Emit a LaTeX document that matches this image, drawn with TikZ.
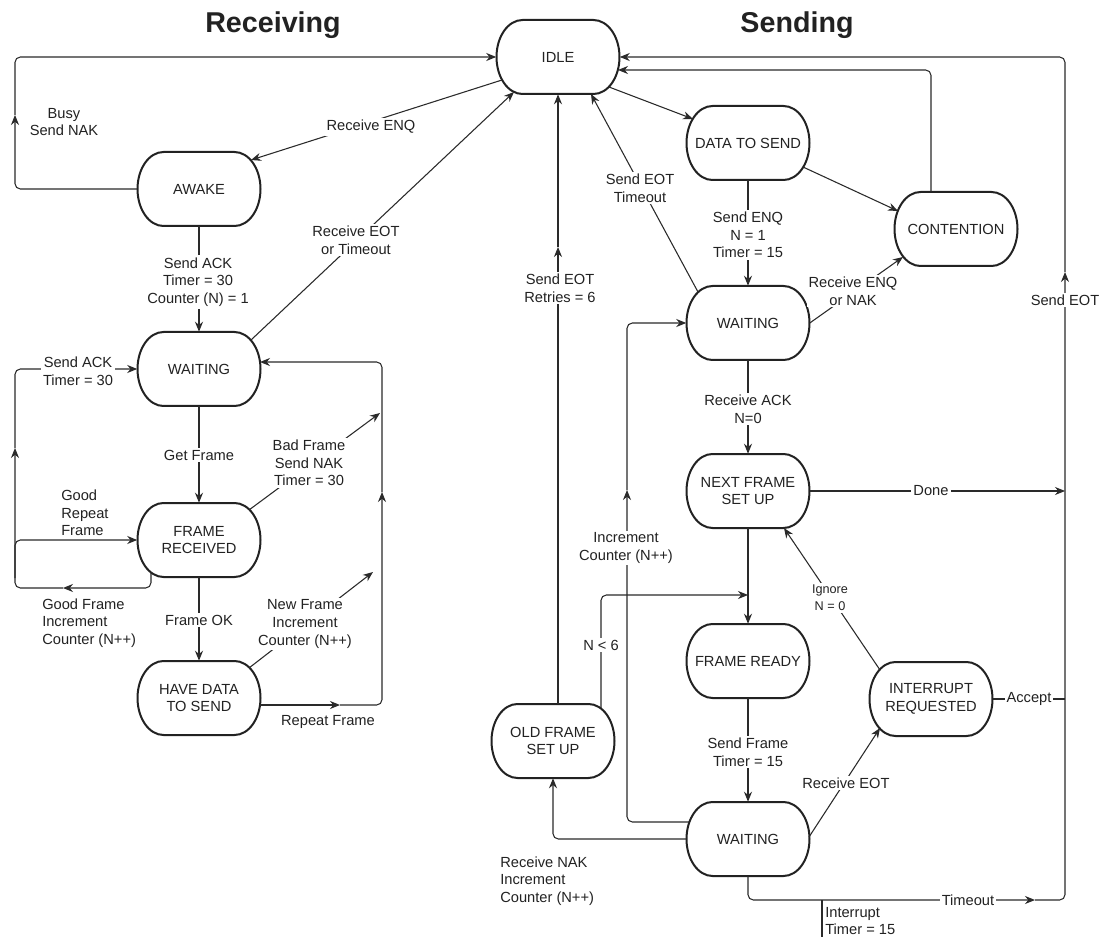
\documentclass[tikz,border=0pt]{standalone}
\usepackage{fontspec}
\setmainfont{Liberation Sans}
\usetikzlibrary{arrows.meta,calc}
\newcommand\stfont{\fontsize{11}{13.3}\selectfont}
\newcommand\smfont{\fontsize{9.5}{12.5}\selectfont}
\definecolor{ink}{HTML}{222222}
\definecolor{wire}{HTML}{2A2A2A}
\tikzset{
  state/.style={minimum width=92.25pt, minimum height=55.5pt, inner sep=2pt,
    align=center, font=\stfont, text=ink},
  outline/.style={draw=ink, line width=1.5pt},
  conn/.style={draw=wire, line width=0.8pt, rounded corners=4pt},
  arr/.style={conn, -{Stealth[length=7.5pt,width=6pt]}},
  lab/.style={fill=white, inner sep=1.5pt, align=center, font=\stfont, text=ink},
  note/.style={inner sep=0pt, align=left, font=\stfont, text=ink},
  title/.style={font=\bfseries\fontsize{21.5}{24}\selectfont, text=ink}
}
\begin{document}
\begin{tikzpicture}[x=0.75pt,y=-0.75pt]
\useasboundingbox[fill=white] (0,0) rectangle (1111,941);

% headings
\node[title] (ttlR) at (273,25) {Receiving};
\node[title] (ttlS) at (797,25) {Sending};

% states
\node[state] (idle)  at (558,57)  {IDLE};
\node[state] (awake) at (199,189) {AWAKE};
\node[state] (rwait) at (199,369) {WAITING};
\node[state] (frecv) at (199,540) {FRAME\\RECEIVED};
\node[state] (have)  at (199,698) {HAVE DATA\\TO SEND};
\node[state] (data)  at (748,143) {DATA TO SEND};
\node[state] (cont)  at (956,229) {CONTENTION};
\node[state] (swA)   at (748,323) {WAITING};
\node[state] (next)  at (748,491) {NEXT FRAME\\SET UP};
\node[state] (ready) at (748,661) {FRAME READY};
\node[state] (swB)   at (748,839) {WAITING};
\node[state] (old)   at (553,741) {OLD FRAME\\SET UP};
\node[state] (intr)  at (931,699) {INTERRUPT\\REQUESTED};

% state outlines: straight top and bottom, half-ellipse ends
\foreach \n in {idle,awake,rwait,frecv,have,data,cont,swA,next,ready,swB,old,intr}
  \draw[outline, shift={(\n.center)}]
    (-35.5,-37) -- (35.5,-37)
    .. controls (49.9,-37) and (61.5,-20.4) .. (61.5,0)
    .. controls (61.5,20.4) and (49.9,37) .. (35.5,37)
    -- (-35.5,37)
    .. controls (-49.9,37) and (-61.5,20.4) .. (-61.5,0)
    .. controls (-61.5,-20.4) and (-49.9,-37) .. (-35.5,-37)
    -- cycle;

% bend and junction points
\coordinate (bz1) at (15,115);
\coordinate (bf)  at (380,413);
\coordinate (gf1) at (63,588);
\coordinate (gf2) at (15,448);
\coordinate (gr)  at (15,578);
\coordinate (nf)  at (373,572);
\coordinate (rf1) at (340,705);
\coordinate (rf2) at (382,492);
\coordinate (dn)  at (1065,491);
\coordinate (inc1) at (627,490);
\coordinate (se1) at (558,247);
\coordinate (n6)  at (748,595);
\coordinate (to1) at (1035,900);
\coordinate (to2) at (1065,272);
\coordinate (ir)  at (822,900);
\coordinate (irEnd) at (822,937);
\coordinate (ac)  at (1065,699);

% receiving side
\draw[arr] (awake.west) -| (bz1);
\draw[arr] (bz1) |- (idle.west);
\draw[arr] ($(idle)+(-56,23)$) -- ($(awake)+(52,-29)$);
\draw[arr] (awake.south) -- (rwait.north);
\draw[arr] ($(rwait)+(52,-29)$) -- ($(idle)+(-44,35)$);
\draw[arr] (rwait.south) -- (frecv.north);
\draw[arr] ($(frecv)+(50,-30)$) -- (bf);
\draw[arr] ($(frecv)+(-48,32)$) |- (gf1);
\draw[arr] (gf1) -| (gf2);
\draw[arr] (gf2) |- (rwait.west);
\draw[arr] (gr) |- (frecv.west);
\draw[arr] (frecv.south) -- (have.north);
\draw[arr] ($(have)+(50,-30)$) -- (nf);
\draw[arr] ($(have)+(61,7)$) -- (rf1);
\draw[arr] (rf1) -| (rf2);
\draw[arr] (rf2) |- ($(rwait)+(61,-7)$);

% sending side
\draw[arr] ($(idle)+(51,30)$) -- ($(data)+(-55,-24)$);
\draw[arr] ($(data)+(55,24)$) -- ($(cont)+(-58,-18)$);
\draw[arr] ($(cont.north)+(-25,0)$) |- ($(idle)+(60,13)$);
\draw[arr] ($(swA)+(-50,-31)$) -- ($(idle)+(33,37)$);
\draw[arr] (data.south) -- (swA.north);
\draw[arr] (swA.east) -- ($(cont)+(-53,28)$);
\draw[arr] (swA.south) -- (next.north);
\draw[arr] (next.east) -- (dn);
\draw[arr] (next.south) -- (ready.north);
\draw[arr] ($(intr)+(-51,-29)$) -- ($(next)+(36,37)$);
\draw[arr] (ready.south) -- (swB.north);
\draw[arr] ($(swB)+(61,-2)$) -- ($(intr)+(-51,29)$);
\draw[arr] ($(swB)+(-59,-17)$) -| (inc1);
\draw[arr] (inc1) |- (swA.west);
\draw[arr] (swB.west) -| (old.south);
\draw[arr] ($(old.north)+(5,0)$) -- (se1);
\draw[arr] (se1) -- (idle.south);
\draw[arr] ($(old)+(48,-33)$) |- (n6);
\draw[arr] (swB.south) |- (to1);
\draw[arr] (to1) -| (to2);
\draw[arr] (to2) |- (idle.east);
\draw[conn] (ir) -- (irEnd);
\draw[conn] (intr.east) -- (ac);

% transition labels, receiving
\node[lab] (lBusy) at (64,122) {Busy\\Send NAK};
\node[lab] (lEnq) at (371,127) {Receive ENQ};
\node[lab] (lAck) at (198,282) {Send ACK\\Timer = 30\\Counter (N) = 1};
\node[lab] (lEot) at (356,240) {Receive EOT\\or Timeout};
\node[lab] (lGet) at (199,455) {Get Frame};
\node[lab] (lBad) at (309,463) {Bad Frame\\Send NAK\\Timer = 30};
\node[lab] (lSack) at (78,371) {Send ACK\\Timer = 30};
\node[note, anchor=west] (lRep) at (61,513) {Good\\Repeat\\Frame};
\node[note, anchor=west] (lGood) at (42,623) {Good Frame\\Increment\\Counter (N++)};
\node[lab] (lOk) at (199,620) {Frame OK};
\node[lab] (lNew) at (305,624) {New Frame\\Increment\\Counter (N++)};
\node[lab] (lRepeat) at (328,722) {Repeat Frame};

% transition labels, sending
\node[lab] (lSeot) at (640,188) {Send EOT\\Timeout};
\node[lab] (lRet) at (560,288) {Send EOT\\Retries = 6};
\node[lab] (lEnq2) at (748,235) {Send ENQ\\N = 1\\Timer = 15};
\node[lab] (lNak) at (853,291) {Receive ENQ\\or NAK};
\node[lab] (lSendEot) at (1065,300) {Send EOT};
\node[lab] (lRack) at (748,409) {Receive ACK\\N=0};
\node[lab] (lDone) at (931,491) {Done};
\node[lab] (lInc) at (626,548) {Increment\\Counter (N++)};
\node[lab, font=\smfont] (lIgn) at (830,598) {Ignore\\N = 0};
\node[lab] (lN6) at (601,645) {N < 6};
\node[lab] (lAcc) at (1029,699) {Accept};
\node[lab] (lSf) at (748,752) {Send Frame\\Timer = 15};
\node[lab] (lReot) at (846,783) {Receive EOT};
\node[note, anchor=west] (lNak2) at (500,881) {Receive NAK\\Increment\\Counter (N++)};
\node[lab] (lTo) at (968,900) {Timeout};
\node[note, anchor=west] (lIntr) at (825,921) {Interrupt\\Timer = 15};
\end{tikzpicture}
\end{document}
